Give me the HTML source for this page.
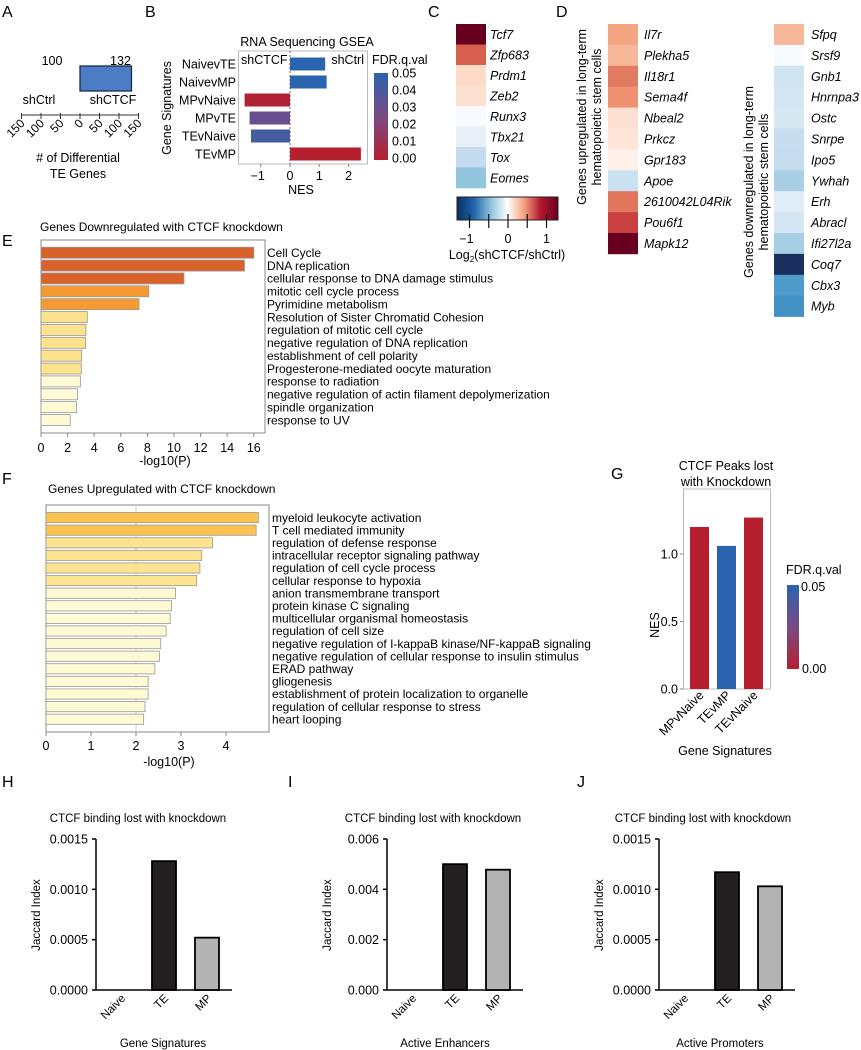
<!DOCTYPE html>
<html><head><meta charset="utf-8"><style>
body{margin:0;background:#fff}
svg{display:block;font-family:"Liberation Sans",Arial,sans-serif}
.it{font-style:italic}
</style></head><body>
<svg id="fig" width="861" height="1050" viewBox="0 0 861 1050" xmlns="http://www.w3.org/2000/svg">
<defs>
<linearGradient id="fdrGrad" x1="0" y1="1" x2="0" y2="0"><stop offset="0" stop-color="#b51f2e"/><stop offset="0.5" stop-color="#7a4a86"/><stop offset="1" stop-color="#2a64ae"/></linearGradient>
<linearGradient id="rdbu" x1="0" y1="0" x2="1" y2="0"><stop offset="0" stop-color="#053061"/><stop offset="0.17" stop-color="#2166ac"/><stop offset="0.34" stop-color="#92c5de"/><stop offset="0.5" stop-color="#ffffff"/><stop offset="0.66" stop-color="#f4a582"/><stop offset="0.83" stop-color="#b2182b"/><stop offset="1" stop-color="#67001f"/></linearGradient>
</defs>
<g font-size="16">
<text x="2" y="17">A</text>
<text x="145" y="17">B</text>
<text x="428" y="17">C</text>
<text x="556" y="17">D</text>
<text x="2" y="246">E</text>
<text x="2" y="484">F</text>
<text x="611" y="479">G</text>
<text x="2" y="787">H</text>
<text x="288" y="787">I</text>
<text x="577" y="787">J</text>
</g>
<!-- A static -->
<g font-size="12.5" text-anchor="middle">
<text x="39" y="104">shCtrl</text>
<text x="113" y="104">shCTCF</text>
<text x="78" y="162"># of Differential</text>
<text x="78" y="178">TE Genes</text>
</g>
<!-- B static -->
<g font-size="12.5">
<text x="307" y="46" text-anchor="middle">RNA Sequencing GSEA</text>
<text x="241" y="64">shCTCF</text>
<text x="364" y="64" text-anchor="end">shCtrl</text>
<text x="301" y="194" text-anchor="middle">NES</text>
<text transform="translate(171,108) rotate(-90)" text-anchor="middle">Gene Signatures</text>
<text x="372" y="64">FDR.q.val</text>
</g>
<rect x="238.5" y="51" width="129" height="113" fill="none" stroke="#bbb"/>
<line x1="290" y1="51" x2="290" y2="164" stroke="#666" stroke-dasharray="2,2"/>
<rect x="374" y="73" width="14" height="87" fill="url(#fdrGrad)"/>
<!-- C static -->
<rect x="457" y="197" width="101" height="23" fill="url(#rdbu)" stroke="#222"/>
<text x="507" y="259" font-size="12.5" text-anchor="middle">Log<tspan font-size="8" dy="3">2</tspan><tspan dy="-3">(shCTCF/shCtrl)</tspan></text>
<!-- D static -->
<g font-size="12.5" text-anchor="middle">
<text transform="translate(586,117) rotate(-90)">Genes upregulated in long-term</text>
<text transform="translate(601,117) rotate(-90)">hematopoietic stem cells</text>
<text transform="translate(753,182) rotate(-90)">Genes downregulated in long-term</text>
<text transform="translate(768,182) rotate(-90)">hematopoietic stem cells</text>
</g>
<!-- E/F static -->
<text x="40" y="231" font-size="12">Genes Downregulated with CTCF knockdown</text>
<rect x="41" y="240" width="224" height="193" fill="none" stroke="#888"/>
<text x="165" y="465" font-size="12.5" text-anchor="middle">-log10(P)</text>
<text x="48" y="493" font-size="12">Genes Upregulated with CTCF knockdown</text>
<rect x="46" y="505" width="223" height="227" fill="none" stroke="#888"/>
<line x1="136" y1="505" x2="136" y2="732" stroke="#ccc"/>
<text x="169" y="766" font-size="12.5" text-anchor="middle">-log10(P)</text>
<!-- G static -->
<g font-size="12.5" text-anchor="middle">
<text x="726" y="470">CTCF Peaks lost</text>
<text x="726" y="486">with Knockdown</text>
<text x="725" y="755">Gene Signatures</text>
<text transform="translate(659,625) rotate(-90)">NES</text>
<text x="786" y="574" text-anchor="start">FDR.q.val</text>
<text x="801" y="591" text-anchor="start">0.05</text>
<text x="802" y="673" text-anchor="start">0.00</text>
</g>
<rect x="683.5" y="489" width="87" height="200" fill="none" stroke="#bbb"/>
<rect x="787" y="585" width="12" height="84" fill="url(#fdrGrad)"/>
<g id="marks"></g>
</svg>
<script>
// ---- Panel A data
const aLabels = ['100', '132'];
const aValues = [0, 132];
const aTicks = [150, 100, 50, 0, 50, 100, 150];
const aTickSigned = [-150, -100, -50, 0, 50, 100, 150];
// ---- Panel B data
const gseaLabels = ['NaivevTE', 'NaivevMP', 'MPvNaive', 'MPvTE', 'TEvNaive', 'TEvMP'];
const gseaNES = [1.2, 1.25, -1.55, -1.38, -1.33, 2.42];
const gseaFDR = [0.05, 0.05, 0.002, 0.03, 0.042, 0.0];
const bTicks = [-1, 0, 1, 2];
const bLegendTicks = ['0.05', '0.04', '0.03', '0.02', '0.01', '0.00'];
// ---- Panel C data
const cGenes = ['Tcf7', 'Zfp683', 'Prdm1', 'Zeb2', 'Runx3', 'Tbx21', 'Tox', 'Eomes'];
const cColors = ['#67001f', '#d6604d', '#fddbc7', '#fce0d0', '#f7fbff', '#e8f0f8', '#c6dbef', '#92c5de'];
const cTicks = [-1, -0.5, 0, 0.5, 1];
// ---- Panel D data
const dUpGenes = ['Il7r', 'Plekha5', 'Il18r1', 'Sema4f', 'Nbeal2', 'Prkcz', 'Gpr183', 'Apoe', '2610042L04Rik', 'Pou6f1', 'Mapk12'];
const dUpColors = ['#f4a582', '#f7b799', '#e07a60', '#ef9170', '#fde0d2', '#fde6d8', '#fff1ea', '#c9e1f0', '#e2765c', '#c94040', '#67001f'];
const dDownGenes = ['Sfpq', 'Srsf9', 'Gnb1', 'Hnrnpa3', 'Ostc', 'Snrpe', 'Ipo5', 'Ywhah', 'Erh', 'Abracl', 'Ifi27l2a', 'Coq7', 'Cbx3', 'Myb'];
const dDownColors = ['#f7b799', '#f8fbfd', '#d0e4f1', '#d4e6f2', '#d8e8f3', '#c8def0', '#c5ddef', '#a8cfe5', '#e0edf6', '#d4e6f2', '#a6cee4', '#1b2f5e', '#4f9bcb', '#4292c6'];
// ---- Panel E data
const eTerms = ['Cell Cycle', 'DNA replication', 'cellular response to DNA damage stimulus', 'mitotic cell cycle process', 'Pyrimidine metabolism', 'Resolution of Sister Chromatid Cohesion', 'regulation of mitotic cell cycle', 'negative regulation of DNA replication', 'establishment of cell polarity', 'Progesterone-mediated oocyte maturation', 'response to radiation', 'negative regulation of actin filament depolymerization', 'spindle organization', 'response to UV'];
const eValues = [16.0, 15.3, 10.75, 8.1, 7.37, 3.48, 3.38, 3.35, 3.06, 3.03, 2.96, 2.75, 2.68, 2.2];
const eColors = ['#d9612a', '#d9612a', '#d9612a', '#f59a32', '#f59a32', '#fde28e', '#fde28e', '#fde28e', '#fde28e', '#fde28e', '#fefad6', '#fefad6', '#fefad6', '#fefad6'];
const eTicks = [0, 2, 4, 6, 8, 10, 12, 14, 16];
// ---- Panel F data
const fTerms = ['myeloid leukocyte activation', 'T cell mediated immunity', 'regulation of defense response', 'intracellular receptor signaling pathway', 'regulation of cell cycle process', 'cellular response to hypoxia', 'anion transmembrane transport', 'protein kinase C signaling', 'multicellular organismal homeostasis', 'regulation of cell size', 'negative regulation of I-kappaB kinase/NF-kappaB signaling', 'negative regulation of cellular response to insulin stimulus', 'ERAD pathway', 'gliogenesis', 'establishment of protein localization to organelle', 'regulation of cellular response to stress', 'heart looping'];
const fValues = [4.72, 4.67, 3.7, 3.46, 3.42, 3.35, 2.88, 2.79, 2.76, 2.67, 2.55, 2.52, 2.42, 2.27, 2.27, 2.2, 2.17];
const fColors = ['#fcc24f', '#fcc24f', '#fde38e', '#fde38e', '#fde38e', '#fde38e', '#fefad4', '#fefad4', '#fefad4', '#fefad4', '#fefad4', '#fefad4', '#fefad4', '#fefad4', '#fefad4', '#fefad4', '#fefad4'];
const fTicks = [0, 1, 2, 3, 4];
// ---- Panel G data
const gCats = ['MPvNaive', 'TEvMP', 'TEvNaive'];
const gNES = [1.2, 1.06, 1.27];
const gFDR = [0.0, 0.05, 0.0];
const gTicks = [0.0, 0.5, 1.0];
const gTickLabels = ['0.0', '0.5', '1.0'];
// ---- Panels H, I, J data
const jacCats = ['Naive', 'TE', 'MP'];
const hValues = [0, 0.00128, 0.00052];
const iValues = [0, 0.0050, 0.00478];
const jValues = [0, 0.00117, 0.00103];
const hTicks = [0, 0.0005, 0.0010, 0.0015];
const hTickLabels = ['0.0000', '0.0005', '0.0010', '0.0015'];
const iTicks = [0, 0.002, 0.004, 0.006];
const iTickLabels = ['0.000', '0.002', '0.004', '0.006'];
const jTicks = [0, 0.0005, 0.0010, 0.0015];
const jTickLabels = ['0.0000', '0.0005', '0.0010', '0.0015'];

const NS = 'http://www.w3.org/2000/svg';
const root = document.getElementById('marks');
function mk(tag, attrs, txt) {
  const e = document.createElementNS(NS, tag);
  for (const k in attrs) e.setAttribute(k, attrs[k]);
  if (txt !== undefined) e.textContent = txt;
  root.appendChild(e);
  return e;
}
function fdrColor(f) {
  const t = Math.max(0, Math.min(1, f / 0.05));
  const r = [181, 31, 46], b = [42, 100, 174], m = [122, 74, 134];
  let c;
  if (t < 0.5) { const u = t / 0.5; c = r.map((v, i) => v + (m[i] - v) * u); }
  else { const u = (t - 0.5) / 0.5; c = m.map((v, i) => v + (b[i] - v) * u); }
  return 'rgb(' + c.map(Math.round).join(',') + ')';
}

// ---- A
const xA = v => 80 + v * 0.39;
let el = mk('rect', {x: xA(aValues[0]), y: 66, width: xA(aValues[1]) - xA(aValues[0]), height: 25, fill: '#4d7cc6', stroke: '#1c2c44', 'stroke-width': 1.3});


el = mk('text', {x: 52, y: 65, 'font-size': 12.5, 'text-anchor': 'middle'}, aLabels[0]);


el = mk('text', {x: xA(aValues[1]) - 11, y: 65, 'font-size': 12.5, 'text-anchor': 'middle'}, aLabels[1]);


el = mk('line', {x1: xA(-150), y1: 115, x2: xA(150), y2: 115, stroke: '#333'});


aTickSigned.forEach((v, i) => {
  const x = xA(v);
  let t = mk('line', {x1: x, y1: 113, x2: x, y2: 119, stroke: '#333'});
  
  
  t = mk('text', {transform: `translate(${x + 4},${124}) rotate(-45)`, 'font-size': 12, 'text-anchor': 'end'}, String(aTicks[i]));
  
  
});

// ---- B
const xB = v => 290 + v * 29.3;
const yB = i => 64 + i * 18;
gseaLabels.forEach((lab, i) => {
  const v = gseaNES[i];
  let r = mk('rect', {x: Math.min(xB(0), xB(v)), y: yB(i) - 6.5, width: Math.abs(xB(v) - xB(0)), height: 13, fill: fdrColor(gseaFDR[i])});
  
  
  let t = mk('text', {x: 236, y: yB(i) + 4.5, 'font-size': 12.5, 'text-anchor': 'end'}, lab);
  
  
});
bTicks.forEach(v => {
  let t = mk('line', {x1: xB(v), y1: 164, x2: xB(v), y2: 167, stroke: '#888'});
  
  
  t = mk('text', {x: xB(v) - (v < 0 ? 3 : 0), y: 180, 'font-size': 12.5, 'text-anchor': 'middle'}, v < 0 ? '\u2212' + Math.abs(v) : String(v));
  
  
});
bLegendTicks.forEach((s, i) => {
  const y = 73 + i * (85 / 5);
  let t = mk('text', {x: 392, y: y + 4.5, 'font-size': 12.5}, s);
  
  
});

// ---- C
const cRowH = (188 - 24) / cGenes.length;
cGenes.forEach((g, i) => {
  let r = mk('rect', {x: 456, y: 24 + i * cRowH, width: 30, height: cRowH + 0.3, fill: cColors[i]});
  
  
  let t = mk('text', {x: 490, y: 24 + i * cRowH + cRowH / 2 + 4.5, 'font-size': 12.5, 'font-style': 'italic'}, g);
  
  
});
const xC = v => 508 + v * 38.5;
cTicks.forEach(v => {
  let t = mk('line', {x1: xC(v), y1: 214, x2: xC(v), y2: 228, stroke: '#111', 'stroke-width': 1.2});
  
  
  if (v === Math.round(v)) {
    t = mk('text', {x: xC(v) - (v < 0 ? 3 : 0), y: 243, 'font-size': 12.5, 'text-anchor': 'middle'}, v < 0 ? '\u2212' + Math.abs(v) : String(v));
    
    
  }
});

// ---- D
const dRowH = 20.9;
dUpGenes.forEach((g, i) => {
  let r = mk('rect', {x: 608, y: 24 + i * dRowH, width: 30, height: dRowH + 0.3, fill: dUpColors[i]});
  
  
  let t = mk('text', {x: 644, y: 24 + i * dRowH + dRowH / 2 + 4.5, 'font-size': 12.5, 'font-style': 'italic'}, g);
  
  
});
dDownGenes.forEach((g, i) => {
  let r = mk('rect', {x: 774, y: 24 + i * dRowH, width: 30, height: dRowH + 0.3, fill: dDownColors[i]});
  
  
  let t = mk('text', {x: 811, y: 24 + i * dRowH + dRowH / 2 + 4.5, 'font-size': 12.5, 'font-style': 'italic'}, g);
  
  
});

// ---- E
const xE = v => 41 + v * 13.3;
const yE = i => 252.7 + i * 12.87;
eTerms.forEach((term, i) => {
  let r = mk('rect', {x: 41, y: yE(i) - 5.5, width: xE(eValues[i]) - 41, height: 11, fill: eColors[i], stroke: '#999', 'stroke-width': 0.8});
  
  
  let t = mk('text', {x: 267, y: yE(i) + 4.3, 'font-size': 12}, term);
  
  
});
eTicks.forEach(v => {
  let t = mk('line', {x1: xE(v), y1: 433, x2: xE(v), y2: 437, stroke: '#888'});
  
  
  t = mk('text', {x: xE(v), y: 452, 'font-size': 12.5, 'text-anchor': 'middle'}, String(v));
  
  
});

// ---- F
const xF = v => 46 + v * 45;
const yF = i => 517.5 + i * 12.6;
fTerms.forEach((term, i) => {
  let r = mk('rect', {x: 46, y: yF(i) - 5, width: xF(fValues[i]) - 46, height: 10.2, fill: fColors[i], stroke: '#999', 'stroke-width': 0.8});
  
  
  let t = mk('text', {x: 272, y: yF(i) + 4.3, 'font-size': 12}, term);
  
  
});
fTicks.forEach(v => {
  let t = mk('line', {x1: xF(v), y1: 732, x2: xF(v), y2: 736, stroke: '#888'});
  
  
  t = mk('text', {x: xF(v), y: 750, 'font-size': 12.5, 'text-anchor': 'middle'}, String(v));
  
  
});

// ---- G
const yG = v => 689 - v * 135;
const xG = i => 699.5 + i * 27;
gCats.forEach((c, i) => {
  let r = mk('rect', {x: xG(i) - 9.5, y: yG(gNES[i]), width: 19, height: yG(0) - yG(gNES[i]), fill: fdrColor(gFDR[i])});
  
  
  let t = mk('text', {transform: `translate(${xG(i) + 5},${696}) rotate(-45)`, 'font-size': 12.5, 'text-anchor': 'end'}, c);
  
  
});
gTicks.forEach((v, i) => {
  let t = mk('line', {x1: 680, y1: yG(v), x2: 683.5, y2: yG(v), stroke: '#888'});
  
  
  t = mk('text', {x: 678, y: yG(v) + 4.5, 'font-size': 12.5, 'text-anchor': 'end'}, gTickLabels[i]);
  
  
});

// ---- H, I, J
function jaccard(id, x0, values, ticks, tickLabels, title, xTitle, titleX, xTitleX) {
  const maxV = ticks[ticks.length - 1];
  const y = v => 990 - v / maxV * 151;
  let t = mk('text', {x: titleX, y: 822, 'font-size': 11.5, 'text-anchor': 'middle'}, title);
  
  
  t = mk('line', {x1: x0, y1: y(maxV), x2: x0, y2: 990, stroke: '#000', 'stroke-width': 1.5});
  
  
  t = mk('line', {x1: x0, y1: 990, x2: x0 + 136, y2: 990, stroke: '#000', 'stroke-width': 1.5});
  
  
  ticks.forEach((v, i) => {
    let k = mk('line', {x1: x0 - 4, y1: y(v), x2: x0, y2: y(v), stroke: '#000', 'stroke-width': 1.5});
    
    
    k = mk('text', {x: x0 - 8, y: y(v) + 4.5, 'font-size': 12.5, 'text-anchor': 'end'}, tickLabels[i]);
    
    
  });
  const fills = ['#fff', '#231f20', '#b3b3b3'];
  jacCats.forEach((c, i) => {
    const cx = x0 + 25 + i * 43;
    if (values[i] > 0) {
      let r = mk('rect', {x: cx - 12, y: y(values[i]), width: 24, height: 990 - y(values[i]), fill: fills[i], stroke: '#000', 'stroke-width': 1.8});
      
      
    }
    let k = mk('text', {transform: `translate(${cx + 5},${999}) rotate(-45)`, 'font-size': 11.5, 'text-anchor': 'end'}, c);
    
    
  });
  t = mk('text', {transform: `translate(${x0 - 56},${915}) rotate(-90)`, 'font-size': 11.5, 'text-anchor': 'middle'}, 'Jaccard Index');
  
  
  t = mk('text', {x: xTitleX, y: 1047, 'font-size': 11.5, 'text-anchor': 'middle'}, xTitle);
  
  
}
jaccard('h', 96, hValues, hTicks, hTickLabels, 'CTCF binding lost with knockdown', 'Gene Signatures', 138, 163);
jaccard('i', 387, iValues, iTicks, iTickLabels, 'CTCF binding lost with knockdown', 'Active Enhancers', 433, 445);
jaccard('j', 659, jValues, jTicks, jTickLabels, 'CTCF binding lost with knockdown', 'Active Promoters', 703, 720);
</script>
</body></html>
